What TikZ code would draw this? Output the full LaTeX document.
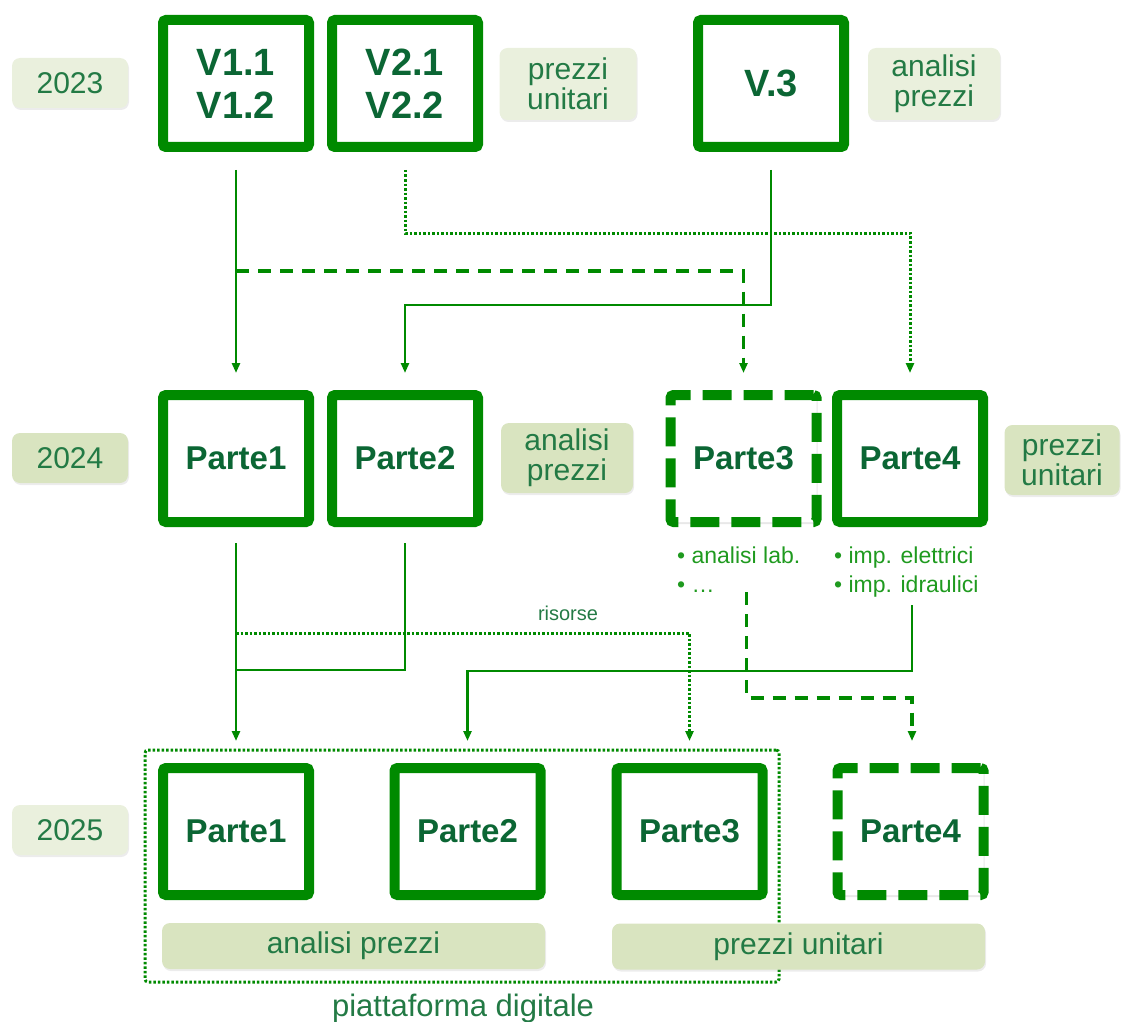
\documentclass[tikz,border=0pt]{standalone}
\usepackage{fontspec}
\setmainfont{Liberation Sans}
\usetikzlibrary{arrows.meta,shadows}
\definecolor{bgreen}{HTML}{008A00}
\definecolor{tgreen}{HTML}{0B6634}
\definecolor{lgreen}{HTML}{237A45}
\definecolor{bulgreen}{HTML}{1F9A1F}
\definecolor{fillA}{HTML}{EAF0DD}
\definecolor{fillB}{HTML}{D9E4C0}
\begin{document}
\begin{tikzpicture}[x=1pt,y=-1pt,
  box/.style={draw=bgreen, line width=10pt, fill=white, rounded corners=3pt,
    minimum width=146pt, minimum height=127pt, inner sep=0pt, text=tgreen,
    font=\bfseries\fontsize{33}{38}\selectfont, align=center,
    drop shadow={opacity=0.18, shadow xshift=1pt, shadow yshift=-2pt}},
  vbox/.style={box, font=\bfseries\fontsize{38}{43}\selectfont},
  dbox/.style={box, dash pattern=on 29pt off 12pt},
  lab/.style={fill=fillA, rounded corners=8pt, text=lgreen, inner sep=0pt,
    font=\fontsize{30}{30}\selectfont, align=center,
    drop shadow={opacity=0.15, shadow xshift=1pt, shadow yshift=-2pt}},
  labB/.style={lab, fill=fillB},
  bul/.style={text=bulgreen, font=\fontsize{23}{29}\selectfont, inner sep=0pt, anchor=base west},
  conn/.style={draw=bgreen, line width=2.6pt, -{Triangle[length=10pt,width=8pt]}},
  plain/.style={draw=bgreen, line width=2.6pt},
  dashc/.style={conn, line width=3.2pt, dash pattern=on 13pt off 9pt},
  dotc/.style={conn, line width=3pt, dash pattern=on 2.5pt off 2pt},
  plat/.style={draw=bgreen, line width=3pt, dash pattern=on 2.5pt off 2pt, rounded corners=3pt,
    inner sep=0pt}
]
\useasboundingbox (0,0) rectangle (1130,1022);

% container
\node[plat, minimum width=634pt, minimum height=232pt] (platf) at (462,866) {};
\node[text=lgreen, font=\fontsize{31}{32}\selectfont, inner sep=0pt, anchor=base] (pd) at (463,1016) {piattaforma digitale};

% year labels
\node[lab, minimum width=116pt, minimum height=50pt] (y23) at (70,83) {2023};
\node[labB, minimum width=116pt, minimum height=50pt] (y24) at (70,458) {2024};
\node[lab, minimum width=116pt, minimum height=50pt] (y25) at (70,830) {2025};

% 2023 row
\node[vbox] (V1) at (236,83.5) {V1.1\\V1.2};
\node[vbox] (V2) at (405,83.5) {V2.1\\V2.2};
\node[vbox] (V3) at (771,83.5) {V.3};
\node[lab, minimum width=137pt, minimum height=72pt] (pu23) at (568,84) {prezzi\\unitari};
\node[lab, minimum width=132pt, minimum height=72pt] (ap23) at (934,84) {analisi\\prezzi};

% 2024 row
\node[box] (P1) at (236,458.5) {Parte1};
\node[box] (P2) at (405,458.5) {Parte2};
\node[dbox] (P3) at (743.5,458.5) {Parte3};
\node[box] (P4) at (910,458.5) {Parte4};
\node[labB, minimum width=132pt, minimum height=70pt] (ap24) at (567,458) {analisi\\prezzi};
\node[labB, minimum width=115pt, minimum height=70pt] (pu24) at (1062,460) {prezzi\\unitari};
\node[bul] (b3a) at (677,563) {• analisi lab.};
\node[bul] (b3b) at (677,592) {• …};
\node[bul] (b4a) at (834,563) {• imp. elettrici};
\node[bul] (b4b) at (834,592) {• imp. idraulici};

% 2025 row
\node[box] (Q1) at (236,831.5) {Parte1};
\node[box] (Q2) at (467.5,831.5) {Parte2};
\node[box] (Q3) at (689.5,831.5) {Parte3};
\node[dbox] (Q4) at (910.5,831.5) {Parte4};
\node[labB, minimum width=383pt, minimum height=46pt] (apbar) at (353.5,946) {analisi prezzi};
\node[labB, minimum width=373pt, minimum height=46pt] (pubar) at (798.5,946.5) {prezzi unitari};

% upper connectors
\coordinate (j1) at (236,271);
\coordinate (k1) at (405,305);
\coordinate (c2) at (910,233);
\draw[conn, shorten <=18pt, shorten >=17pt] (V1.south) -- (P1.north);
\draw[dashc, shorten >=17pt] (j1) -| (P3.north);
\draw[conn, shorten >=17pt] ([yshift=-18pt]V3.south) |- (k1) -- (P2.north);
\draw[dotc, shorten >=17pt] ([yshift=-18pt]V2.south) |- (c2) -- (P4.north);

% lower connectors
\coordinate (j3) at (236,670);
\coordinate (j4) at (236,633);
\coordinate (c5) at (467.5,671);
\coordinate (c6) at (912,698);
\draw[conn, shorten <=16pt, shorten >=22pt] (P1.south) -- (Q1.north);
\draw[plain] ([yshift=-16pt]P2.south) |- (j3);
\draw[dotc, shorten >=22pt] (j4) -| (Q3.north);
\node[text=lgreen, font=\fontsize{20}{22}\selectfont, inner sep=0pt] (ris) at (568,613) {risorse};
\draw[conn, shorten >=22pt] ([xshift=2pt,yshift=-78pt]P4.south) |- (c5) -- (Q2.north);
\draw[dashc, shorten >=22pt] ([xshift=3pt,yshift=-65pt]P3.south) |- (c6) -- (c6 |- Q4.north);
\end{tikzpicture}
\end{document}
